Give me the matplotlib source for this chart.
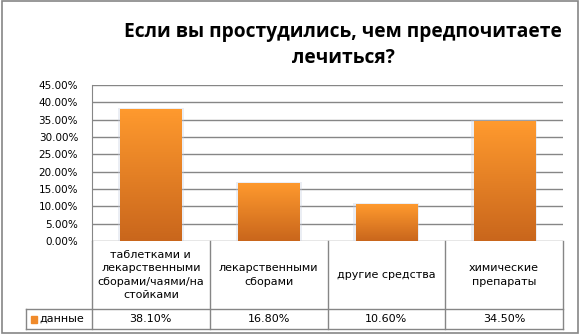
import matplotlib
matplotlib.use("Agg")
import matplotlib.pyplot as plt
import matplotlib.transforms as mtransforms
from matplotlib.patches import Rectangle
import numpy as np

# данные
categories = ["таблетками и\nлекарственными\nсборами/чаями/на\nстойками",
              "лекарственными\nсборами",
              "другие средства",
              "химические\nпрепараты"]
values = [38.1, 16.8, 10.6, 34.5]
value_labels = ["38.10%", "16.80%", "10.60%", "34.50%"]
series_name = "данные"
yticks = np.arange(0, 46, 5)
title = "Если вы простудились, чем предпочитаете\nлечиться?"

grey = "#868686"
W, H = 580, 336

fig = plt.figure(figsize=(W / 100, H / 100), dpi=100)
# рамка диаграммы
fig.patches.append(Rectangle((2 / W, 1 - 333 / H), 576 / W, 332 / H,
                             transform=fig.transFigure, fill=False,
                             edgecolor=grey, linewidth=1.2))

ax = fig.add_axes([92 / W, (H - 241) / H, (563 - 92) / W, 156 / H])
x = np.arange(len(values))

# градиент на столбцах
grad = np.linspace(0, 1, 256).reshape(-1, 1)
cmap = matplotlib.colors.LinearSegmentedColormap.from_list("o", ["#C9661C", "#FF9A2E"])
bars = ax.bar(x, values, width=0.52, color="none", zorder=3)
for b in bars:
    x0, y0, w, h = b.get_x(), b.get_y(), b.get_width(), b.get_height()
    # лёгкая тень
    ax.add_patch(Rectangle((x0 - 0.02, y0), w + 0.04, h + 0.3, color="#c8cfe0",
                           alpha=0.35, linewidth=0, zorder=2))
    im = ax.imshow(grad, cmap=cmap, extent=(x0, x0 + w, y0, y0 + h),
                   origin="lower", aspect="auto", zorder=3)
    im.set_clip_path(b)
ax.set_xlim(-0.5, len(values) - 0.5)
ax.set_ylim(0, 45)

ax.set_yticks(yticks)
ax.set_yticklabels(["%.2f%%" % t for t in yticks])
ax.tick_params(axis="y", length=0, pad=10, labelsize=7.5, labelcolor="black")
ax.set_xticks([])
ax.grid(axis="y", color=grey, linewidth=1)
ax.set_axisbelow(True)
for s in ["top", "right", "bottom"]:
    ax.spines[s].set_visible(False)
ax.spines["left"].set_color(grey)

# таблица данных под осью
tr = mtransforms.blended_transform_factory(ax.transData, ax.transAxes)
r1, r2 = -68 / 156, -88 / 156
leg_left = (26 - 92) / 471
lk = dict(color=grey, linewidth=1, clip_on=False)
for xb in np.arange(len(values) + 1) - 0.5:
    ax.plot([xb, xb], [0, r2], transform=tr, **lk)
ax.plot([leg_left, 1], [r1, r1], transform=ax.transAxes, **lk)
ax.plot([leg_left, 1], [r2, r2], transform=ax.transAxes, **lk)
ax.plot([leg_left, leg_left], [r1, r2], transform=ax.transAxes, **lk)
for i in range(len(values)):
    ax.text(x[i], r1 / 2, categories[i], transform=tr, ha="center", va="center",
            fontsize=8, linespacing=1.45, clip_on=False)
    ax.text(x[i], (r1 + r2) / 2, value_labels[i], transform=tr, ha="center",
            va="center", fontsize=8, clip_on=False)
ax.add_patch(Rectangle(((31 - 92) / 471, (r1 + r2) / 2 - 3.5 / 156), 6 / 471, 7 / 156,
                       transform=ax.transAxes, color="#F08A2A", clip_on=False))
ax.text((39 - 92) / 471, (r1 + r2) / 2, series_name, transform=ax.transAxes,
        ha="left", va="center", fontsize=8, clip_on=False)

fig.text(343 / W, 1 - 45 / H, title, ha="center", va="center", fontsize=13.8,
         fontweight="bold", family=["Open Sans", "DejaVu Sans"], linespacing=1.4)

fig.savefig("out.png", dpi=100)
